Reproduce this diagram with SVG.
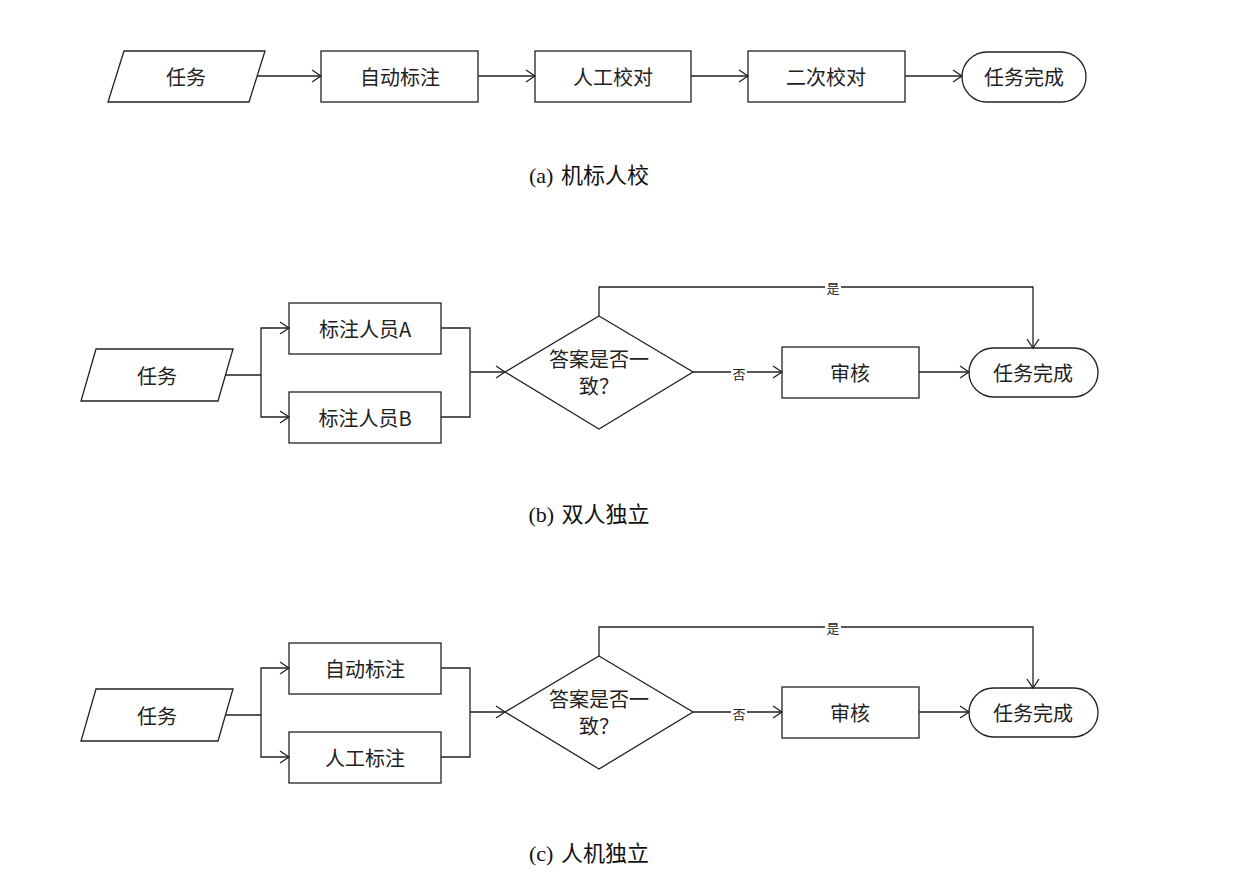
<svg xmlns="http://www.w3.org/2000/svg" width="1236" height="880" viewBox="0 0 1236 880">
<style>
.n{fill:#fff;stroke:#222;stroke-width:1.3}
.t{font-family:"Noto Sans CJK SC",sans-serif;font-size:20px;fill:#222;text-anchor:middle;dominant-baseline:central}
.c{font-family:"Liberation Serif","Noto Sans CJK SC",serif;font-size:22px;fill:#111;text-anchor:middle;dominant-baseline:central;word-spacing:2px}
.l{font-family:"Noto Sans CJK SC",sans-serif;font-size:13px;fill:#222;text-anchor:middle;dominant-baseline:central}
.e{fill:none;stroke:#222;stroke-width:1.3}
.a{marker-end:url(#ar)}
</style>
<defs>
<marker id="ar" markerUnits="userSpaceOnUse" markerWidth="12" markerHeight="14" refX="10" refY="7" orient="auto">
<path d="M1,1 L10,7 L1,13" fill="none" stroke="#222" stroke-width="1.3"/>
</marker>
</defs>
<rect width="1236" height="880" fill="#fff"/>

<!-- (a) -->
<g id="a_task"><polygon class="n" points="124,51 265,51 249,102 108,102"/><text class="t" x="186" y="76">任务</text></g>
<g id="a_auto"><rect class="n" x="321" y="51" width="157" height="51"/><text class="t" x="400" y="76">自动标注</text></g>
<g id="a_manual"><rect class="n" x="535" y="51" width="156" height="51"/><text class="t" x="613" y="76">人工校对</text></g>
<g id="a_second"><rect class="n" x="748" y="51" width="157" height="51"/><text class="t" x="826" y="76">二次校对</text></g>
<g id="a_done"><rect class="n" x="962" y="52" width="124" height="50" rx="25"/><text class="t" x="1024" y="76">任务完成</text></g>
<g id="a_edges">
<line class="e a" x1="257" y1="76" x2="321" y2="76"/>
<line class="e a" x1="478" y1="76" x2="535" y2="76"/>
<line class="e a" x1="691" y1="76" x2="748" y2="76"/>
<line class="e a" x1="905" y1="76" x2="962" y2="76"/>
</g>
<text class="c" x="589" y="175">(a) 机标人校</text>

<!-- (b) -->
<g id="b_task"><polygon class="n" points="96,349 233,349 218,401 81,401"/><text class="t" x="157" y="375">任务</text></g>
<g id="b_A"><rect class="n" x="289" y="303" width="152" height="51"/><text class="t" x="365" y="328">标注人员A</text></g>
<g id="b_B"><rect class="n" x="289" y="392" width="152" height="51"/><text class="t" x="365" y="417">标注人员B</text></g>
<g id="b_dec"><polygon class="n" points="599,316 693,372 599,429 505,372"/><text class="t" x="599" y="358">答案是否一</text><text class="t" x="599" y="385">致？</text></g>
<g id="b_review"><rect class="n" x="782" y="347" width="137" height="51"/><text class="t" x="850" y="372">审核</text></g>
<g id="b_done"><rect class="n" x="969" y="348" width="129" height="49" rx="24.5"/><text class="t" x="1033" y="372">任务完成</text></g>
<g id="b_edges">
<line class="e" x1="225" y1="375" x2="261" y2="375"/>
<polyline class="e a" points="261,375 261,328 289,328"/>
<polyline class="e a" points="261,375 261,417 289,417"/>
<polyline class="e" points="441,328 470,328 470,417 441,417"/>
<line class="e a" x1="470" y1="372" x2="505" y2="372"/>
<polyline class="e a" points="599,316 599,287 1033,287 1033,348"/>
<rect x="825" y="279" width="16" height="16" fill="#fff"/>
<text class="l" x="833" y="287">是</text>
<line class="e a" x1="693" y1="372" x2="782" y2="372"/>
<rect x="731" y="365" width="16" height="16" fill="#fff"/>
<text class="l" x="739" y="373">否</text>
<line class="e a" x1="919" y1="372" x2="969" y2="372"/>
</g>
<text class="c" x="589" y="514">(b) 双人独立</text>

<!-- (c) -->
<g id="c_task"><polygon class="n" points="96,689 233,689 218,741 81,741"/><text class="t" x="157" y="715">任务</text></g>
<g id="c_auto"><rect class="n" x="289" y="643" width="152" height="51"/><text class="t" x="365" y="668">自动标注</text></g>
<g id="c_manual"><rect class="n" x="289" y="732" width="152" height="51"/><text class="t" x="365" y="757">人工标注</text></g>
<g id="c_dec"><polygon class="n" points="599,656 693,712 599,769 505,712"/><text class="t" x="599" y="698">答案是否一</text><text class="t" x="599" y="725">致？</text></g>
<g id="c_review"><rect class="n" x="782" y="687" width="137" height="51"/><text class="t" x="850" y="712">审核</text></g>
<g id="c_done"><rect class="n" x="969" y="688" width="129" height="49" rx="24.5"/><text class="t" x="1033" y="712">任务完成</text></g>
<g id="c_edges">
<line class="e" x1="225" y1="715" x2="261" y2="715"/>
<polyline class="e a" points="261,715 261,668 289,668"/>
<polyline class="e a" points="261,715 261,757 289,757"/>
<polyline class="e" points="441,668 470,668 470,757 441,757"/>
<line class="e a" x1="470" y1="712" x2="505" y2="712"/>
<polyline class="e a" points="599,656 599,627 1033,627 1033,688"/>
<rect x="825" y="619" width="16" height="16" fill="#fff"/>
<text class="l" x="833" y="627">是</text>
<line class="e a" x1="693" y1="712" x2="782" y2="712"/>
<rect x="731" y="705" width="16" height="16" fill="#fff"/>
<text class="l" x="739" y="713">否</text>
<line class="e a" x1="919" y1="712" x2="969" y2="712"/>
</g>
<text class="c" x="589" y="853">(c) 人机独立</text>
</svg>
